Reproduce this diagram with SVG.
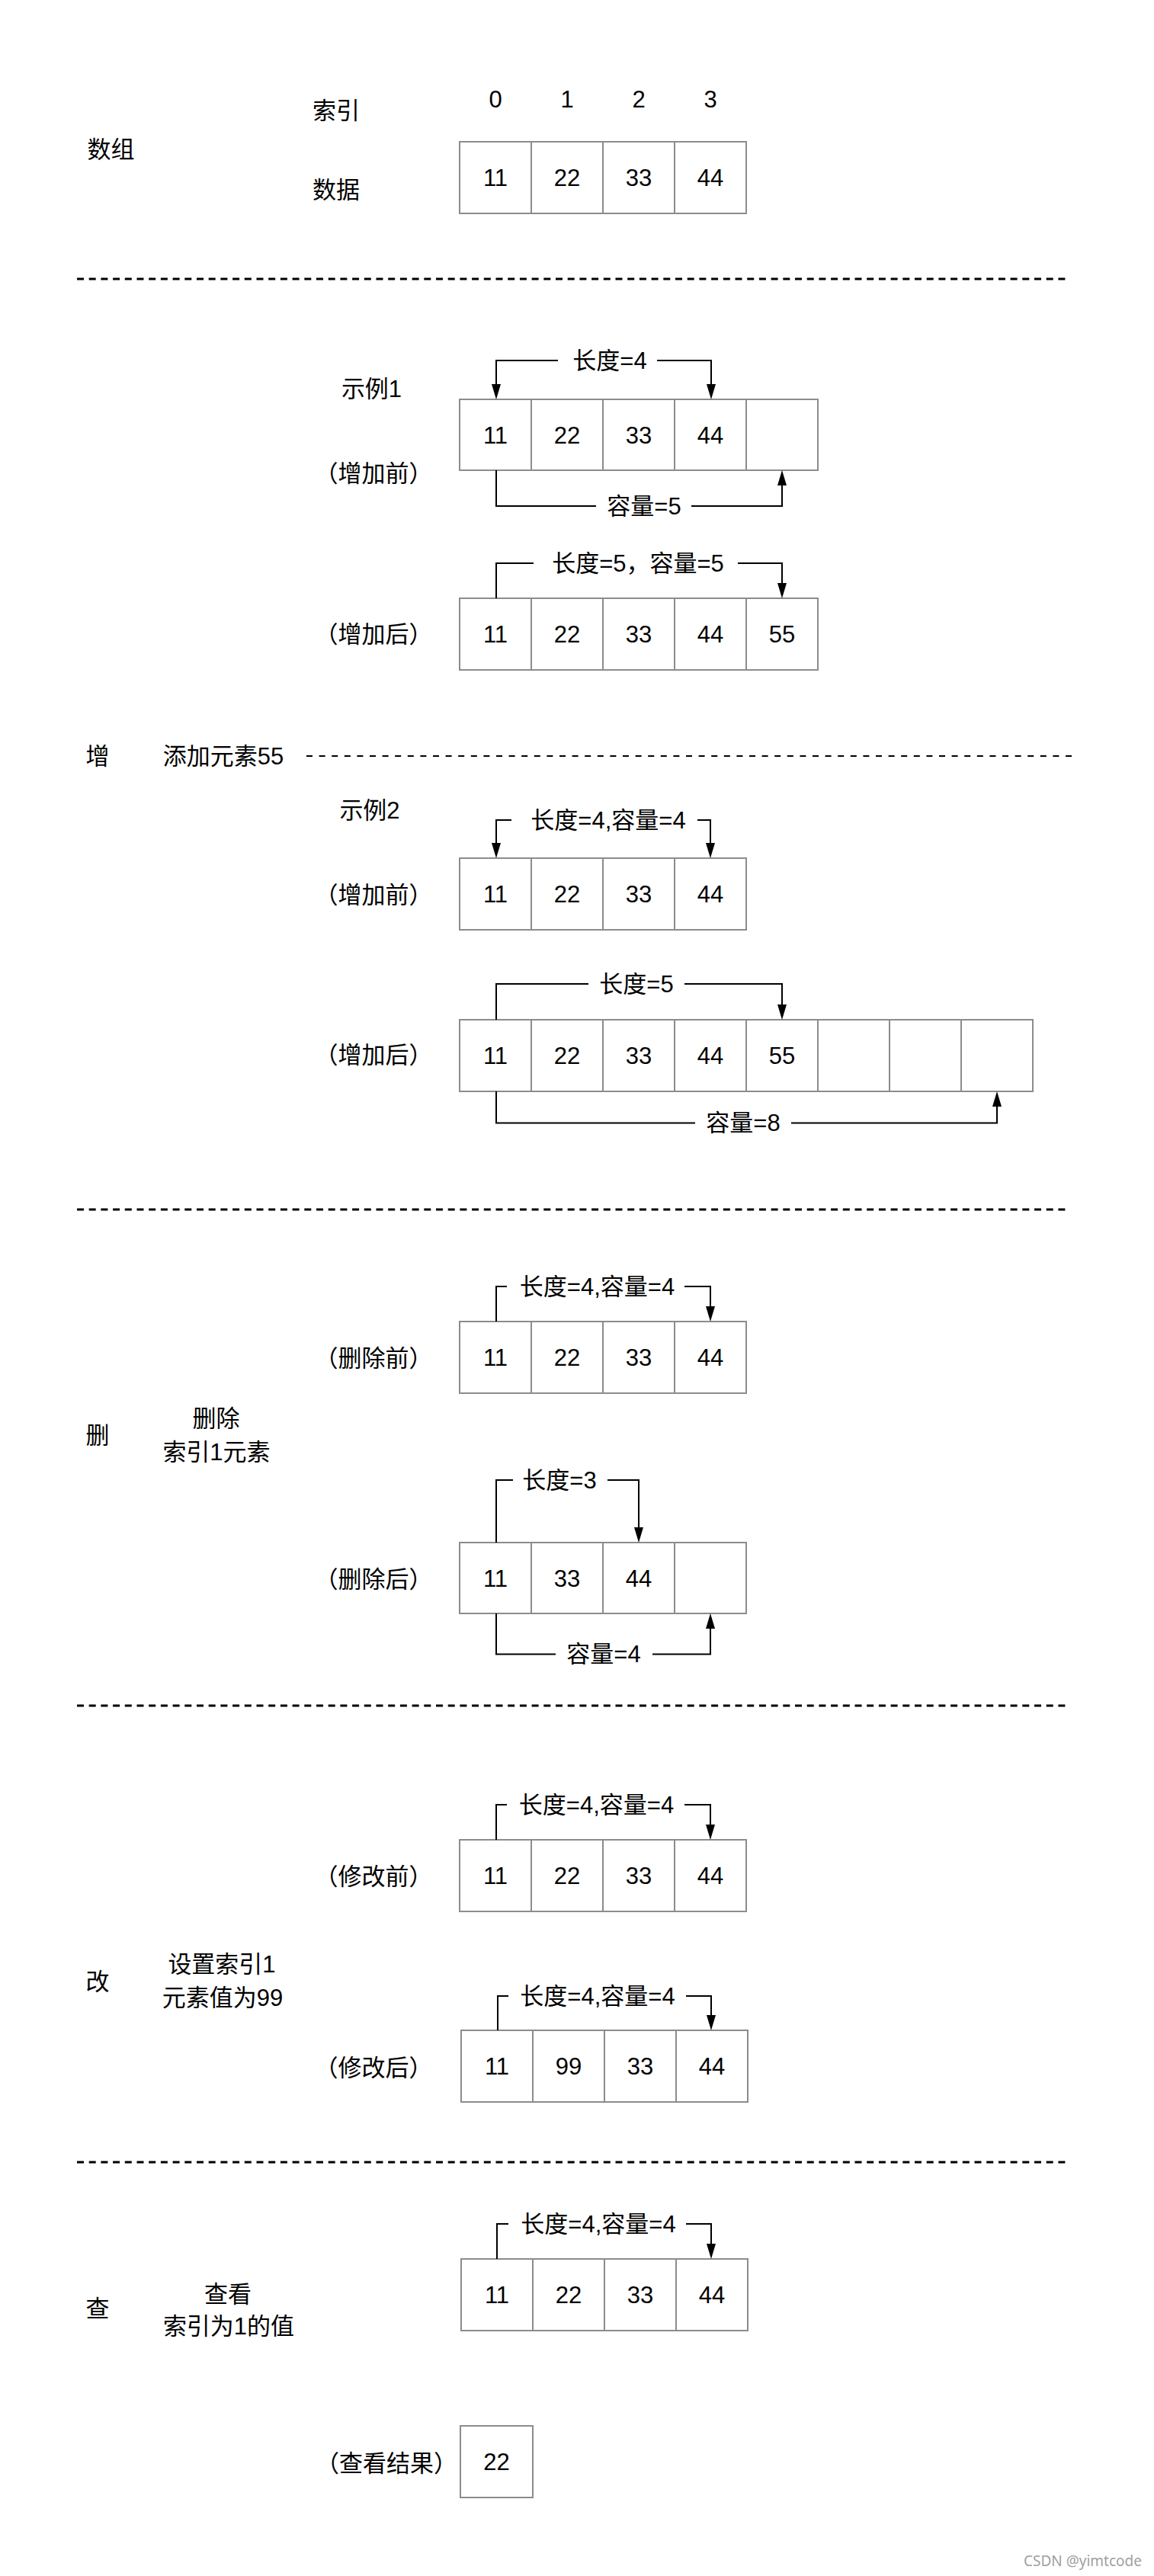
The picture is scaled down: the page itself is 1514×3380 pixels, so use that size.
<svg xmlns="http://www.w3.org/2000/svg" width="1514" height="3380" viewBox="0 0 1514 3380">
<style>
text{font-family:"Liberation Sans","Noto Sans CJK SC",sans-serif;font-size:31px;fill:#000}
.m{text-anchor:middle}
.cell{fill:#fff;stroke:#8c8c8c;stroke-width:2}
.con{fill:none;stroke:#000;stroke-width:2}
.bg{fill:#fff}
.dash{fill:none;stroke:#000;stroke-width:3;stroke-dasharray:9 6.7}
.dash2{fill:none;stroke:#000;stroke-width:2;stroke-dasharray:8 8.6}
.wm{font-family:"Noto Sans",sans-serif;font-size:19px;fill:#a0a0a0;text-anchor:end}
</style>
<defs>
<marker id="arr" markerUnits="userSpaceOnUse" markerWidth="20" markerHeight="12" refX="0" refY="6" orient="auto" viewBox="0 0 20 12">
<path d="M0,0 L20,6 L0,12 z" fill="#000"/>
</marker>
</defs>
<rect width="1514" height="3380" fill="#fff"/>

<g id="dividers">
<line class="dash" x1="101" y1="366" x2="1404" y2="366"/>
<line class="dash2" x1="402" y1="992" x2="1407" y2="992"/>
<line class="dash" x1="101" y1="1587" x2="1404" y2="1587"/>
<line class="dash" x1="101" y1="2238" x2="1404" y2="2238"/>
<line class="dash" x1="101" y1="2837" x2="1404" y2="2837"/>
</g>

<g id="labels">
<text class="m" x="145.5" y="207">数组</text>
<text class="m" x="441" y="156">索引</text>
<text class="m" x="441" y="260">数据</text>
<text class="m" x="650" y="141">0</text>
<text class="m" x="744" y="141">1</text>
<text class="m" x="838" y="141">2</text>
<text class="m" x="932" y="141">3</text>
<text class="m" x="487.5" y="521">示例1</text>
<text class="m" x="490" y="632">（增加前）</text>
<text class="m" x="490" y="843">（增加后）</text>
<text class="m" x="128" y="1003">增</text>
<text class="m" x="293" y="1003">添加元素55</text>
<text class="m" x="485" y="1074">示例2</text>
<text class="m" x="490" y="1185">（增加前）</text>
<text class="m" x="490" y="1395">（增加后）</text>
<text class="m" x="128" y="1894">删</text>
<text class="m" x="283.5" y="1872">删除</text>
<text class="m" x="284" y="1916">索引1元素</text>
<text class="m" x="490" y="1793">（删除前）</text>
<text class="m" x="490" y="2083">（删除后）</text>
<text class="m" x="128" y="2611">改</text>
<text class="m" x="291" y="2588">设置索引1</text>
<text class="m" x="292" y="2632">元素值为99</text>
<text class="m" x="490" y="2473">（修改前）</text>
<text class="m" x="490" y="2724">（修改后）</text>
<text class="m" x="128" y="3040">查</text>
<text class="m" x="299" y="3021">查看</text>
<text class="m" x="300" y="3063">索引为1的值</text>
<text class="m" x="507" y="3243">（查看结果）</text>
<text class="wm" x="1498" y="3367">CSDN @yimtcode</text>
</g>

<g id="array-base">
<rect class="cell" x="603" y="186" width="94" height="94"/>
<rect class="cell" x="697" y="186" width="94" height="94"/>
<rect class="cell" x="791" y="186" width="94" height="94"/>
<rect class="cell" x="885" y="186" width="94" height="94"/>
<text class="m" x="650" y="244">11</text><text class="m" x="744" y="244">22</text><text class="m" x="838" y="244">33</text><text class="m" x="932" y="244">44</text>
</g>

<g id="add1-before">
<rect class="cell" x="603" y="524" width="94" height="93"/>
<rect class="cell" x="697" y="524" width="94" height="93"/>
<rect class="cell" x="791" y="524" width="94" height="93"/>
<rect class="cell" x="885" y="524" width="94" height="93"/>
<rect class="cell" x="979" y="524" width="94" height="93"/>
<text class="m" x="650" y="582">11</text><text class="m" x="744" y="582">22</text><text class="m" x="838" y="582">33</text><text class="m" x="932" y="582">44</text>
</g>

<g id="add1-after">
<rect class="cell" x="603" y="785" width="94" height="94"/>
<rect class="cell" x="697" y="785" width="94" height="94"/>
<rect class="cell" x="791" y="785" width="94" height="94"/>
<rect class="cell" x="885" y="785" width="94" height="94"/>
<rect class="cell" x="979" y="785" width="94" height="94"/>
<text class="m" x="650" y="843">11</text><text class="m" x="744" y="843">22</text><text class="m" x="838" y="843">33</text><text class="m" x="932" y="843">44</text><text class="m" x="1026" y="843">55</text>
</g>

<g id="add2-before">
<rect class="cell" x="603" y="1126" width="94" height="94"/>
<rect class="cell" x="697" y="1126" width="94" height="94"/>
<rect class="cell" x="791" y="1126" width="94" height="94"/>
<rect class="cell" x="885" y="1126" width="94" height="94"/>
<text class="m" x="650" y="1184">11</text><text class="m" x="744" y="1184">22</text><text class="m" x="838" y="1184">33</text><text class="m" x="932" y="1184">44</text>
</g>

<g id="add2-after">
<rect class="cell" x="603" y="1338" width="94" height="94"/>
<rect class="cell" x="697" y="1338" width="94" height="94"/>
<rect class="cell" x="791" y="1338" width="94" height="94"/>
<rect class="cell" x="885" y="1338" width="94" height="94"/>
<rect class="cell" x="979" y="1338" width="94" height="94"/>
<rect class="cell" x="1073" y="1338" width="94" height="94"/>
<rect class="cell" x="1167" y="1338" width="94" height="94"/>
<rect class="cell" x="1261" y="1338" width="94" height="94"/>
<text class="m" x="650" y="1396">11</text><text class="m" x="744" y="1396">22</text><text class="m" x="838" y="1396">33</text><text class="m" x="932" y="1396">44</text><text class="m" x="1026" y="1396">55</text>
</g>

<g id="del-before">
<rect class="cell" x="603" y="1734" width="94" height="94"/>
<rect class="cell" x="697" y="1734" width="94" height="94"/>
<rect class="cell" x="791" y="1734" width="94" height="94"/>
<rect class="cell" x="885" y="1734" width="94" height="94"/>
<text class="m" x="650" y="1792">11</text><text class="m" x="744" y="1792">22</text><text class="m" x="838" y="1792">33</text><text class="m" x="932" y="1792">44</text>
</g>

<g id="del-after">
<rect class="cell" x="603" y="2024" width="94" height="93"/>
<rect class="cell" x="697" y="2024" width="94" height="93"/>
<rect class="cell" x="791" y="2024" width="94" height="93"/>
<rect class="cell" x="885" y="2024" width="94" height="93"/>
<text class="m" x="650" y="2082">11</text><text class="m" x="744" y="2082">33</text><text class="m" x="838" y="2082">44</text>
</g>

<g id="mod-before">
<rect class="cell" x="603" y="2414" width="94" height="94"/>
<rect class="cell" x="697" y="2414" width="94" height="94"/>
<rect class="cell" x="791" y="2414" width="94" height="94"/>
<rect class="cell" x="885" y="2414" width="94" height="94"/>
<text class="m" x="650" y="2472">11</text><text class="m" x="744" y="2472">22</text><text class="m" x="838" y="2472">33</text><text class="m" x="932" y="2472">44</text>
</g>

<g id="mod-after">
<rect class="cell" x="605" y="2664" width="94" height="94"/>
<rect class="cell" x="699" y="2664" width="94" height="94"/>
<rect class="cell" x="793" y="2664" width="94" height="94"/>
<rect class="cell" x="887" y="2664" width="94" height="94"/>
<text class="m" x="652" y="2722">11</text><text class="m" x="746" y="2722">99</text><text class="m" x="840" y="2722">33</text><text class="m" x="934" y="2722">44</text>
</g>

<g id="query">
<rect class="cell" x="605" y="2964" width="94" height="94"/>
<rect class="cell" x="699" y="2964" width="94" height="94"/>
<rect class="cell" x="793" y="2964" width="94" height="94"/>
<rect class="cell" x="887" y="2964" width="94" height="94"/>
<text class="m" x="652" y="3022">11</text><text class="m" x="746" y="3022">22</text><text class="m" x="840" y="3022">33</text><text class="m" x="934" y="3022">44</text>
</g>

<g id="query-result">
<rect class="cell" x="604" y="3183" width="95" height="94"/>
<text class="m" x="651.5" y="3241">22</text>
</g>

<g id="connectors">
<path class="con" d="M797,473 H651 V504" marker-end="url(#arr)"/>
<path class="con" d="M797,473 H933 V504" marker-end="url(#arr)"/>
<path class="con" d="M651,617 V664 H1026 V637" marker-end="url(#arr)"/>
<path class="con" d="M651,785 V739 H1026 V765" marker-end="url(#arr)"/>
<path class="con" d="M793,1076 H651 V1106" marker-end="url(#arr)"/>
<path class="con" d="M793,1076 H932 V1106" marker-end="url(#arr)"/>
<path class="con" d="M651,1338 V1291 H1026 V1318" marker-end="url(#arr)"/>
<path class="con" d="M651,1432 V1473.5 H1308 V1452" marker-end="url(#arr)"/>
<path class="con" d="M651,1734 V1688 H932 V1714" marker-end="url(#arr)"/>
<path class="con" d="M651,2024 V1942 H838 V2004" marker-end="url(#arr)"/>
<path class="con" d="M651,2117 V2170.5 H932 V2137" marker-end="url(#arr)"/>
<path class="con" d="M651,2414 V2368 H932 V2394" marker-end="url(#arr)"/>
<path class="con" d="M653,2664 V2619 H933 V2644" marker-end="url(#arr)"/>
<path class="con" d="M652,2964 V2918 H933 V2944" marker-end="url(#arr)"/>
</g>

<g id="connector-labels">
<rect class="bg" x="732" y="456" width="130" height="34"/><text class="m" x="800" y="484">长度=4</text>
<rect class="bg" x="782" y="647" width="125" height="34"/><text class="m" x="845" y="675">容量=5</text>
<rect class="bg" x="700" y="722" width="268" height="34"/><text class="m" x="837" y="750">长度=5，容量=5</text>
<rect class="bg" x="671" y="1059" width="244" height="34"/><text class="m" x="798" y="1087">长度=4,容量=4</text>
<rect class="bg" x="772" y="1274" width="126" height="34"/><text class="m" x="835" y="1302">长度=5</text>
<rect class="bg" x="912" y="1456" width="126" height="34"/><text class="m" x="975" y="1484">容量=8</text>
<rect class="bg" x="665" y="1671" width="233" height="34"/><text class="m" x="783.5" y="1699">长度=4,容量=4</text>
<rect class="bg" x="673" y="1925" width="124" height="34"/><text class="m" x="734" y="1953">长度=3</text>
<rect class="bg" x="729" y="2153" width="127" height="34"/><text class="m" x="792" y="2181">容量=4</text>
<rect class="bg" x="665" y="2351" width="233" height="34"/><text class="m" x="782.5" y="2379">长度=4,容量=4</text>
<rect class="bg" x="667" y="2602" width="233" height="34"/><text class="m" x="784" y="2630">长度=4,容量=4</text>
<rect class="bg" x="667" y="2901" width="233" height="34"/><text class="m" x="785" y="2929">长度=4,容量=4</text>
</g>
</svg>
